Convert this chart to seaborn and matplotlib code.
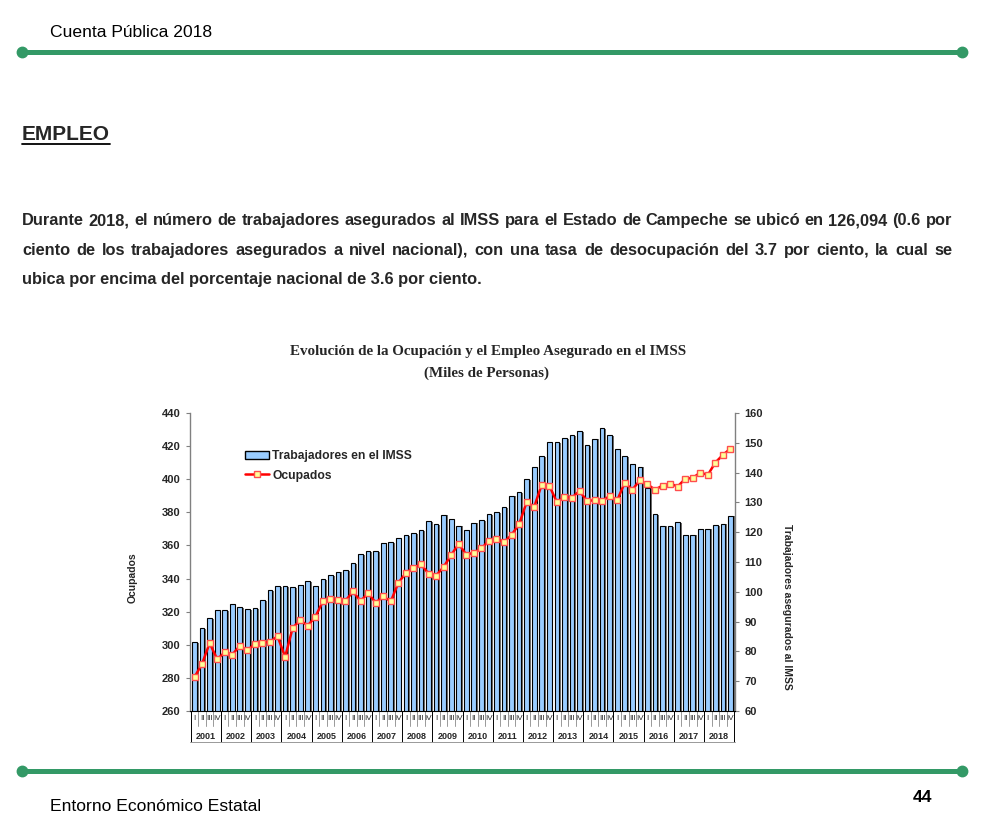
import numpy as np
import pandas as pd
import matplotlib
matplotlib.use("Agg")
import matplotlib.pyplot as plt
from matplotlib import font_manager
import seaborn as sns
from matplotlib.patches import Patch
from matplotlib.lines import Line2D
import matplotlib.patheffects as pe

# ---------------- data ----------------
years = [str(y) for y in range(2001, 2019)]
quarters = ["I", "II", "III", "IV"]

# Trabajadores asegurados en el IMSS (miles, right axis)
imss = [83.0, 87.8, 91.3, 93.8,
        93.8, 96.0, 94.9, 94.3,
        94.6, 97.3, 100.6, 102.0,
        102.0, 101.6, 102.4, 103.7,
        102.0, 104.2, 105.7, 106.8,
        107.2, 109.7, 112.6, 113.7,
        113.7, 116.5, 116.6, 118.1,
        118.9, 119.7, 120.8, 123.6,
        122.8, 125.9, 124.5, 122.2,
        120.8, 123.2, 124.2, 126.2,
        126.7, 128.5, 132.3, 133.6,
        137.8, 141.8, 145.5, 150.3,
        150.3, 151.7, 152.7, 153.8,
        149.1, 151.4, 154.8, 152.7,
        147.8, 145.5, 142.8, 142.0,
        134.8, 126.1, 122.2, 122.0,
        123.3, 119.2, 119.2, 121.2,
        121.2, 122.3, 122.9, 125.6]

# Ocupados (miles, left axis)
ocupados = [280.5, 288.5, 301.0, 291.3,
            295.4, 294.0, 299.4, 296.6,
            300.6, 301.2, 301.8, 305.2,
            292.6, 310.2, 314.8, 311.6,
            316.8, 326.2, 327.6, 327.2,
            326.6, 332.2, 326.4, 331.2,
            325.4, 329.2, 326.2, 337.4,
            343.4, 346.6, 348.6, 343.0,
            341.8, 347.0, 354.2, 361.0,
            354.4, 355.6, 358.2, 362.8,
            364.0, 362.0, 366.4, 372.8,
            386.2, 383.3, 396.8, 396.2,
            386.1, 389.3, 388.9, 392.9,
            386.9, 387.3, 386.9, 389.9,
            387.3, 398.0, 393.6, 399.4,
            397.0, 393.6, 396.2, 397.4,
            395.6, 400.2, 400.8, 404.0,
            402.6, 410.1, 414.7, 418.5]

periodo = [f"{y}-{q}" for y in years for q in quarters]

title1 = "Evolución de la Ocupación y el Empleo Asegurado en el IMSS"
title2 = "(Miles de Personas)"
para = ["Durante 2018, el número de trabajadores asegurados al IMSS para el Estado de Campeche se ubicó en 126,094 (0.6 por",
        "ciento de los trabajadores asegurados a nivel nacional), con una tasa de desocupación del 3.7 por ciento, la cual se",
        "ubica por encima del porcentaje nacional de 3.6 por ciento."]

df = pd.DataFrame({"periodo": periodo, "pos": np.arange(len(periodo)),
                   "imss": imss, "ocupados": ocupados})

# ---------------- style ----------------
sns.set_style("white")
plt.rcParams["font.family"] = ["Liberation Sans", "DejaVu Sans"]

names = {f.name for f in font_manager.fontManager.ttflist}
if "Liberation Sans Narrow" in names:
    NARROW, NSIZE = "Liberation Sans Narrow", 15.0
else:
    NARROW, NSIZE = "Liberation Sans", 12.6

GREEN = "#339966"
BAR = "#99CCFF"

fig = plt.figure(figsize=(9.9, 8.33), dpi=100)
page = fig.add_axes([0, 0, 1, 1])
page.set_xlim(0, 990)
page.set_ylim(833, 0)
page.axis("off")
renderer = fig.canvas.get_renderer()

# header / footer rules
for yy in (52, 771):
    page.plot([22, 962], [yy, yy], color=GREEN, lw=3.6, solid_capstyle="butt")
    page.plot([22, 962], [yy, yy], "o", ms=7.5, color=GREEN)

page.text(50, 37, "Cuenta Pública 2018", family=NARROW, fontsize=NSIZE,
          color="black", va="baseline")
page.text(50, 811, "Entorno Económico Estatal", family=NARROW, fontsize=NSIZE,
          color="black", va="baseline")
page.text(932, 802, "44", family=NARROW, fontsize=NSIZE, fontweight="bold",
          color="black", va="baseline", ha="right")

t = page.text(22, 140, "EMPLEO", fontsize=15, fontweight="bold", va="baseline")
w = t.get_window_extent(renderer).width
page.plot([22, 22 + w], [143.5, 143.5], color="black", lw=1.3)

# justified paragraph
pkw = dict(fontsize=11.8, fontweight="bold", va="baseline")
for i, (line, yy) in enumerate(zip(para, [225, 254.5, 284])):
    if i == len(para) - 1:
        page.text(22, yy, line, **pkw)
        continue
    words = line.split(" ")
    texts = [page.text(0, yy, wd, **pkw) for wd in words]
    widths = [tx.get_window_extent(renderer).width for tx in texts]
    gap = (952 - 22 - sum(widths)) / (len(words) - 1)
    x = 22
    for tx, wd in zip(texts, widths):
        tx.set_x(x)
        x += wd + gap

# chart titles
page.text(488, 355, title1, family="Liberation Serif", fontweight="bold",
          fontsize=10.8, ha="center", va="baseline")
page.text(487, 377, title2, family="Liberation Serif", fontweight="bold",
          fontsize=10.8, ha="center", va="baseline")

# ---------------- chart ----------------
ax_bar = fig.add_axes([190 / 990, 1 - 711 / 833, 545 / 990, 298 / 833])
sns.barplot(data=df, x="pos", y="imss", native_scale=True, ax=ax_bar,
            color=BAR, saturation=1, edgecolor="black", linewidth=0.8,
            width=0.62, errorbar=None)
for p in ax_bar.patches:
    p.set_path_effects([pe.SimplePatchShadow(offset=(1.3, -0.6),
                                             shadow_rgbFace="#404040", alpha=0.75),
                        pe.Normal()])
ax_bar.set_ylim(60, 160)
ax_bar.set_yticks(range(60, 161, 10))

ax_line = ax_bar.twinx()
sns.lineplot(data=df, x="pos", y="ocupados", ax=ax_line, color="#FF0000",
             lw=1.8, marker="s", markersize=5, markerfacecolor="#FFFF99",
             markeredgecolor="#FF4D4D", markeredgewidth=1.0, legend=False)
ax_line.set_ylim(260, 440)
ax_line.set_yticks(range(260, 441, 20))

ax_bar.set_xlim(-0.6, 71.6)
ax_bar.set_xticks([])
ax_bar.set_xlabel("")

ax_bar.yaxis.tick_right()
ax_bar.yaxis.set_label_position("right")
ax_line.yaxis.tick_left()
ax_line.yaxis.set_label_position("left")

for a in (ax_bar, ax_line):
    a.tick_params(axis="y", length=3, width=0.8, color="#808080",
                  labelsize=8, pad=4)
    for lab in a.get_yticklabels():
        lab.set_fontweight("bold")

for s in ax_bar.spines.values():
    s.set_visible(False)
ax_line.spines["top"].set_visible(False)
ax_line.spines["bottom"].set_color("black")
ax_line.spines["bottom"].set_linewidth(0.8)
for s in ("left", "right"):
    ax_line.spines[s].set_color("#808080")
    ax_line.spines[s].set_linewidth(1.0)

ax_line.set_ylabel("Ocupados", fontsize=7.5, fontweight="bold")
ax_line.yaxis.set_label_coords(-0.097, 0.446)
ax_bar.set_ylabel("Trabajadores asegurados al IMSS", fontsize=7.5,
                  fontweight="bold", rotation=-90, va="center", ha="center")
ax_bar.yaxis.set_label_coords(1.095, 0.349)

# quarter / year table under the axis
tr = ax_bar.get_xaxis_transform()
for i, yr in enumerate(years):
    for j, q in enumerate(quarters):
        ax_bar.text(4 * i + j, -0.024, q, transform=tr, ha="center", va="center",
                    fontsize=5.8, clip_on=False)
    ax_bar.text(4 * i + 1.5, -0.085, yr, transform=tr, ha="center", va="center",
                fontsize=6.5, fontweight="bold", clip_on=False)
for k in range(73):
    xx = -0.5 + k
    if k % 4 == 0:
        ax_bar.plot([xx, xx], [0, -0.105], transform=tr, color="black",
                    lw=0.7, clip_on=False)
    else:
        ax_bar.plot([xx, xx], [0, -0.05], transform=tr, color="#999999",
                    lw=0.7, clip_on=False)
ax_bar.plot([-0.6, 71.6], [-0.105, -0.105], transform=tr, color="#999999",
            lw=0.7, clip_on=False)

handles = [Patch(facecolor=BAR, edgecolor="black", label="Trabajadores en el IMSS"),
           Line2D([], [], color="#FF0000", lw=1.8, marker="s", ms=5,
                  mfc="#FFFF99", mec="#FF4D4D", label="Ocupados")]
ax_line.legend(handles=handles, loc="upper left", bbox_to_anchor=(0.1, 0.875),
               frameon=False, prop={"weight": "bold", "size": 8.7},
               handlelength=2.0, handletextpad=0.3, labelspacing=0.6,
               borderaxespad=0, borderpad=0)

fig.savefig("out.png", dpi=100)
